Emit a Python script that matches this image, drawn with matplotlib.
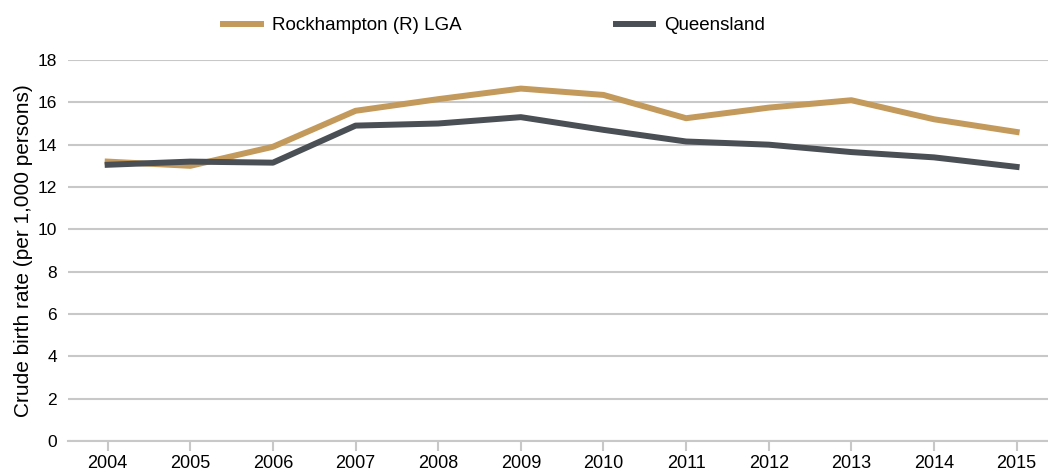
import numpy as np
import matplotlib.pyplot as plt

plt.rcParams['font.family'] = ['Liberation Sans', 'DejaVu Sans']

# data
years = [2004, 2005, 2006, 2007, 2008, 2009, 2010, 2011, 2012, 2013, 2014, 2015]
rockhampton = [13.2, 13.0, 13.9, 15.6, 16.15, 16.65, 16.35, 15.25, 15.75, 16.1, 15.2, 14.6]
queensland = [13.05, 13.2, 13.15, 14.9, 15.0, 15.3, 14.7, 14.15, 14.0, 13.65, 13.4, 12.95]
series_names = ['Rockhampton (R) LGA', 'Queensland']

tan = '#C39A5B'
dark = '#4A4F55'
grid_col = '#C8C8C8'

fig = plt.figure(figsize=(10.48, 4.72), dpi=100)
ax = fig.add_axes([68/1048, 31/472, 1 - 68/1048, 381/472])

ax.plot(years, rockhampton, color=tan, lw=4.3, label=series_names[0])
ax.plot(years, queensland, color=dark, lw=4.3, label=series_names[1])

ax.set_ylim(0, 18)
ax.set_xlim(2003.52, 2015.38)
ax.set_yticks(np.arange(0, 19, 2))
ax.set_xticks(years)
ax.yaxis.grid(True, color=grid_col, lw=1.5)
ax.set_axisbelow(True)
for s in ['top', 'right', 'left']:
    ax.spines[s].set_visible(False)
ax.spines['bottom'].set_color(grid_col)
ax.spines['bottom'].set_linewidth(1.5)
ax.tick_params(axis='y', length=0, labelsize=12.5, pad=8)
ax.tick_params(axis='x', length=7, width=1.5, color=grid_col, labelsize=13, pad=3)
ax.set_ylabel('Crude birth rate (per 1,000 persons)', fontsize=15, labelpad=3)

leg = ax.legend(loc='center', bbox_to_anchor=(0.435, 1.09), ncol=2, frameon=False,
                fontsize=13.5, handlelength=2.0, handletextpad=0.6, columnspacing=8.2)

fig.savefig('out.png', dpi=100)
